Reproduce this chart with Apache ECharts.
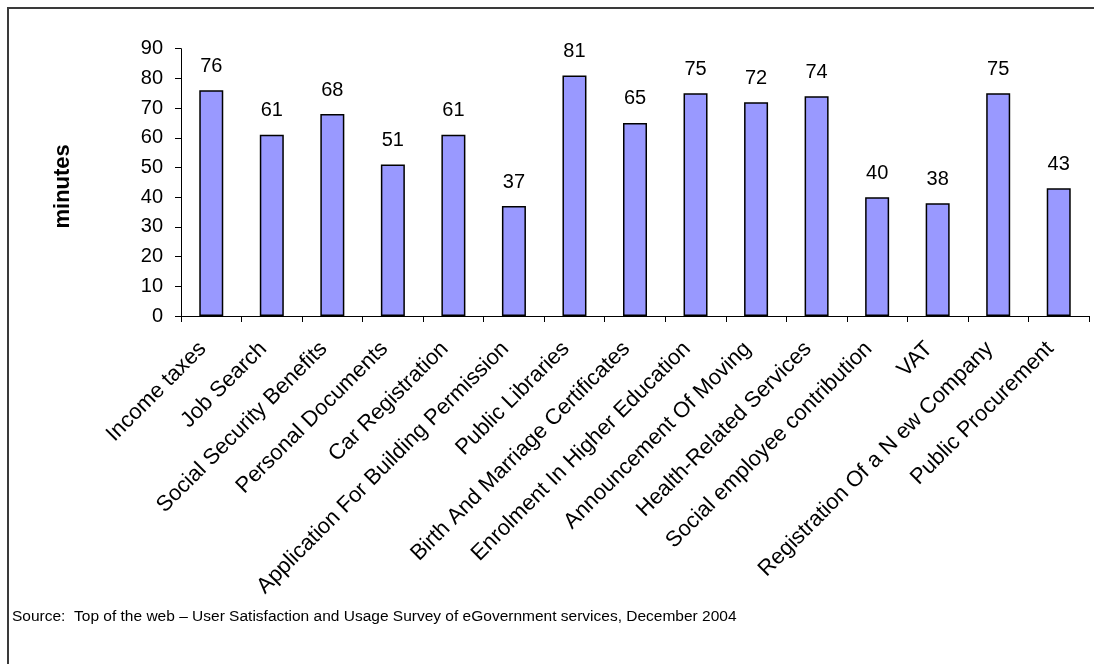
<!DOCTYPE html>
<html>
<head>
<meta charset="utf-8">
<script src="https://cdn.jsdelivr.net/npm/echarts@6/dist/echarts.min.js"></script>
<style>
  html, body { margin: 0; padding: 0; background: #ffffff; }
  #chart { width: 1094px; height: 664px; }
</style>
</head>
<body>
<div id="chart"></div>
<script>
// Time spent per eGovernment service (minutes)
const services = [
  'Income taxes',
  'Job Search',
  'Social Security Benefits',
  'Personal Documents',
  'Car Registration',
  'Application For Building Permission',
  'Public Libraries',
  'Birth And Marriage Certificates',
  'Enrolment In Higher Education',
  'Announcement Of Moving',
  'Health-Related Services',
  'Social employee contribution',
  'VAT',
  'Registration Of a N ew Company',
  'Public Procurement'
];
const minutes = [76, 61, 68, 51, 61, 37, 81, 65, 75, 72, 74, 40, 38, 75, 43];
const yTicks = { min: 0, max: 90, interval: 10 };
const axisTitle = 'minutes';
const sourceNote = 'Source:  Top of the web \u2013 User Satisfaction and Usage Survey of eGovernment services, December 2004';

const FONT = '"Liberation Sans", Arial, sans-serif';
const chart = echarts.init(document.getElementById('chart'));

chart.setOption({
  backgroundColor: '#ffffff',
  animation: false,
  grid: { left: 181, right: 5, top: 48.7, height: 267.3, containLabel: false },
  graphic: [
    {
      type: 'rect',
      shape: { x: 8, y: 8, width: 1200, height: 800 },
      style: { fill: 'none', stroke: '#3a3a3a', lineWidth: 2 },
      silent: true
    },
    {
      type: 'text',
      left: 12,
      top: 609,
      style: { text: sourceNote, font: '15.5px ' + FONT, fill: '#000000' }
    }
  ],
  xAxis: {
    type: 'category',
    data: services,
    axisLine: { lineStyle: { color: '#000000', width: 1 } },
    axisTick: { show: true, alignWithLabel: false, length: 6, lineStyle: { color: '#000000' } },
    axisLabel: {
      interval: 0,
      rotate: 45,
      margin: 21,
      padding: [0, 12, 0, 0],
      color: '#000000',
      fontFamily: FONT,
      fontSize: 22
    },
    splitLine: { show: false }
  },
  yAxis: {
    type: 'value',
    min: yTicks.min,
    max: yTicks.max,
    interval: yTicks.interval,
    name: axisTitle,
    nameLocation: 'middle',
    nameRotate: 90,
    nameGap: 107,
    nameTextStyle: { fontFamily: FONT, fontSize: 22, fontWeight: 'bold', color: '#000000', padding: [0, 8, 0, 0] },
    axisLine: { show: true, lineStyle: { color: '#000000', width: 1 } },
    axisTick: { show: true, inside: false, length: 6, lineStyle: { color: '#000000' } },
    axisLabel: { margin: 18, color: '#000000', fontFamily: FONT, fontSize: 20 },
    splitLine: { show: false }
  },
  series: [{
    type: 'bar',
    data: minutes,
    barWidth: 24,
    itemStyle: { color: '#9999FF', borderColor: '#000000', borderWidth: 1.5 },
    label: {
      show: true,
      position: 'top',
      distance: 14,
      color: '#000000',
      fontFamily: FONT,
      fontSize: 20
    }
  }]
});
</script>
</body>
</html>
